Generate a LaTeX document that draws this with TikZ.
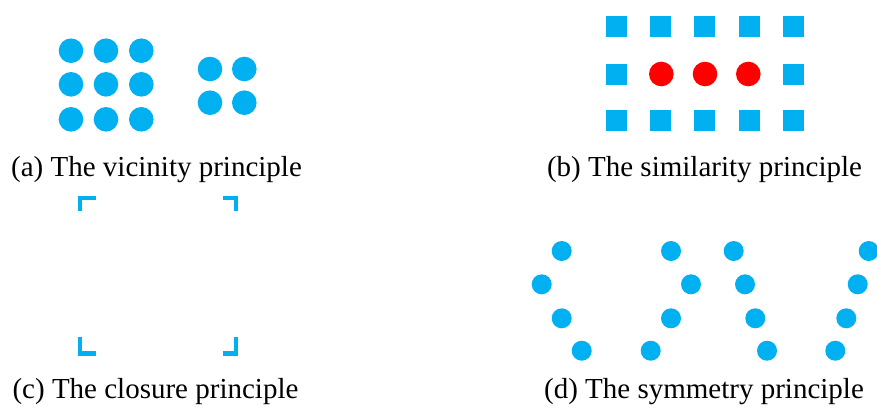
\documentclass[tikz,border=0pt]{standalone}
\usepackage{fontspec}
\setmainfont{Liberation Serif}
\definecolor{gblue}{HTML}{00B0F0}
\definecolor{gred}{HTML}{FF0000}
\begin{document}
\begin{tikzpicture}[x=1pt,y=-1pt,
  bigdot/.style={circle,fill=gblue,draw=none,inner sep=0pt,minimum size=24.6pt},
  reddot/.style={circle,fill=gred,draw=none,inner sep=0pt,minimum size=24.6pt},
  smalldot/.style={circle,fill=gblue,draw=none,inner sep=0pt,minimum size=20pt},
  sqr/.style={rectangle,fill=gblue,draw=none,inner sep=0pt,minimum size=21pt},
  corner/.style={draw=gblue,line width=4.3pt,line cap=butt,line join=miter},
  captext/.style={anchor=base,inner sep=0pt,font=\fontsize{29}{34}\selectfont}]
\useasboundingbox (0,0) rectangle (877,408);
% (a) vicinity
\foreach \x [count=\i] in {71,106,141.3}{
  \foreach \y [count=\j] in {50.7,84.3,119.3}{
    \node[bigdot] (va\i\j) at (\x,\y) {};
  }
}
\foreach \x [count=\i] in {210,244.3}{
  \foreach \y [count=\j] in {69,102.7}{
    \node[bigdot] (vb\i\j) at (\x,\y) {};
  }
}
\node[captext] (capa) at (156.5,176) {(a) The vicinity principle};
% (b) similarity
\foreach \x [count=\i] in {616.3,660.3,704.7,749,793.7}{
  \node[sqr] (st\i) at (\x,26.3) {};
  \node[sqr] (sb\i) at (\x,120.3) {};
}
\node[sqr] (sm1) at (616.3,74) {};
\node[sqr] (sm5) at (793.7,74) {};
\foreach \x [count=\i] in {661.3,705,748.3}{
  \node[reddot] (sr\i) at (\x,74) {};
}
\node[captext] (capb) at (704.5,176) {(b) The similarity principle};
% (c) closure
\draw[corner] (79.85,211) -- (79.85,197.85) -- (95.7,197.85);
\draw[corner] (222.7,197.85) -- (236.15,197.85) -- (236.15,211);
\draw[corner] (79.85,336.7) -- (79.85,353.55) -- (95.7,353.55);
\draw[corner] (222.7,353.55) -- (236.15,353.55) -- (236.15,336.7);
\node[captext] (capc) at (155.5,398) {(c) The closure principle};
% (d) symmetry
\foreach \a/\b/\c/\d [count=\g] in {561.7/541.7/561.7/581.7, 671/691/671/650.7, 733.7/745/755.3/767, 868.7/857.7/846.3/835.3}{
  \node[smalldot] (d\g a) at (\a,251) {};
  \node[smalldot] (d\g b) at (\b,284.3) {};
  \node[smalldot] (d\g c) at (\c,318.3) {};
  \node[smalldot] (d\g d) at (\d,350.7) {};
}
\node[captext] (capd) at (704,398) {(d) The symmetry principle};
\end{tikzpicture}
\end{document}
